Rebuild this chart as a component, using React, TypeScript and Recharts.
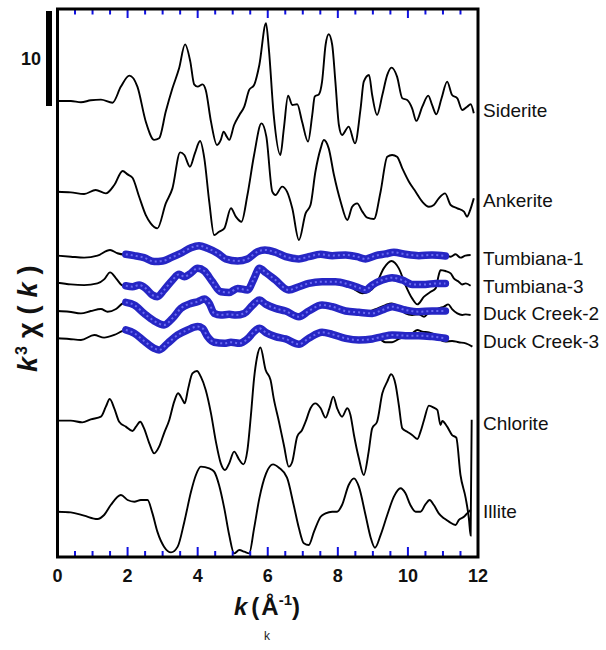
import { LineChart, Line, XAxis, YAxis } from "recharts";

type Pt = [number, number];

// k (1/Å) vs k^3·chi(k); each spectrum is shifted by its offset
const siderite: Pt[] = [
  [0, 0], [0.38, 0], [0.67, -0.14], [0.95, 0.07], [1.24, 0.14], [1.57, -0.18], [1.81, 1.51], [2.05, 2.67],
  [2.28, 1.51], [2.52, -2.18], [2.76, -4.1], [2.9, -3.93], [3.09, -1.12], [3.28, 1.33], [3.47, 3.44], [3.64, 5.96],
  [3.79, 4.14], [3.9, 1.75], [4.0, 1.51], [4.14, 1.75], [4.23, 1.16], [4.38, -2.18], [4.55, -4.63], [4.66, -4.1],
  [4.74, -3.23], [4.83, -3.75], [4.9, -4.1], [5.04, -2.53], [5.19, -1.47], [5.33, -0.6], [5.47, 1.16], [5.61, 1.68],
  [5.76, 3.79], [5.95, 8.18], [6.03, 5.54], [6.17, -1.47], [6.36, -5.68], [6.46, -2.88], [6.58, 0.56], [6.7, -0.42],
  [6.84, -0.35], [6.98, -2.18], [7.15, -4.28], [7.27, -1.47], [7.34, 0.46], [7.46, 0.7], [7.55, 2.04], [7.65, 5.89],
  [7.74, 7.02], [7.84, 5.89], [7.93, 2.04], [8.03, -2.53], [8.12, -3.58], [8.31, -2.7], [8.49, -4.46], [8.65, -0.77],
  [8.74, 2.04], [8.89, 2.74], [8.98, 0.63], [9.12, -1.47], [9.27, 0.63], [9.41, 2.74], [9.53, 3.51], [9.69, 2.56],
  [9.84, 0.28], [9.98, 0.1], [10.12, -0.77], [10.24, -2.1], [10.41, -0.6], [10.58, 0.56], [10.69, -0.42], [10.81, -1.4],
  [10.96, 0.28], [11.12, 2.04], [11.26, 0.63], [11.41, 0.28], [11.55, -0.95], [11.69, -0.6], [11.79, -0.35], [11.88, -1.3],
];

const ankerite: Pt[] = [
  [0, 0], [0.38, -0.07], [0.76, -0.25], [1.09, 0.18], [1.38, -0.18], [1.62, 0.7], [1.86, 2.18], [2.0, 1.82],
  [2.14, 1.47], [2.33, -0.53], [2.52, -2.46], [2.66, -3.33], [2.85, -3.86], [3.09, -1.23], [3.28, 0.35], [3.5, 4.14],
  [3.62, 3.86], [3.78, 2.63], [3.92, 4.04], [4.07, 5.33], [4.19, 3.51], [4.33, -1.05], [4.47, -4.56], [4.61, -4.21],
  [4.76, -3.86], [4.95, -1.75], [5.09, -2.63], [5.25, -3.16], [5.42, -0.35], [5.61, 3.86], [5.82, 7.19], [5.96, 5.8],
  [6.13, 0], [6.22, -0.35], [6.41, 0.53], [6.55, 0], [6.7, -1.75], [6.89, -5.09], [7.08, -2.28], [7.22, -1.4],
  [7.36, 2.1], [7.51, 4.56], [7.6, 5.44], [7.74, 4.56], [7.89, 1.75], [8.08, -1.05], [8.27, -2.98], [8.41, -1.58],
  [8.55, -1.23], [8.7, -2.1], [8.84, -2.74], [9.03, -2.88], [9.22, 0], [9.41, 3.68], [9.55, 3.86], [9.69, 3.68],
  [9.84, 2.46], [10.03, 1.05], [10.22, 0], [10.41, -1.05], [10.6, -1.58], [10.74, -1.4], [10.88, -0.7], [11.06, -0.18],
  [11.22, -1.4], [11.41, -1.75], [11.6, -2.1], [11.69, -2.63], [11.76, -2.1], [11.88, -0.7],
];

const tumbiana1: Pt[] = [
  [0, 0], [0.38, -0.11], [0.76, -0.21], [1.14, 0], [1.5, 0.6], [1.71, 0.25], [1.95, 0.07], [2.19, 0],
  [2.47, -0.21], [2.76, -0.6], [3.0, -0.56], [3.24, -0.21], [3.52, 0.25], [3.81, 0.84], [4.04, 1.05], [4.28, 0.77],
  [4.57, 0.25], [4.8, -0.35], [5.14, -0.56], [5.42, -0.35], [5.71, 0.42], [5.94, 0.6], [6.22, 0.35], [6.51, -0.11],
  [6.89, -0.35], [7.17, -0.11], [7.51, 0.14], [7.84, 0], [8.22, 0.07], [8.55, -0.11], [8.79, -0.35], [9.08, 0],
  [9.36, 0.18], [9.6, 0.35], [9.93, 0.14], [10.31, 0], [10.69, 0.07], [11.07, -0.04], [11.22, -0.11], [11.36, 0.14],
  [11.5, -0.21], [11.64, 0], [11.79, 0.07],
];
const tumbiana1Fit: Pt[] = [
  [1.95, 0.14], [2.19, 0], [2.47, -0.21], [2.76, -0.63], [3.0, -0.56], [3.24, -0.21], [3.52, 0.25], [3.81, 0.84],
  [4.04, 1.05], [4.28, 0.77], [4.57, 0.25], [4.8, -0.35], [5.14, -0.56], [5.42, -0.35], [5.71, 0.42], [5.92, 0.6],
  [6.22, 0.35], [6.51, -0.11], [6.89, -0.35], [7.17, -0.11], [7.51, 0.14], [7.84, 0], [8.22, 0.07], [8.55, -0.11],
  [8.79, -0.35], [9.08, 0], [9.36, 0.18], [9.6, 0.35], [9.93, 0.14], [10.31, 0], [10.69, 0.07], [11.07, -0.04],
];

const tumbiana3: Pt[] = [
  [0, 0], [0.38, -0.18], [0.76, -0.25], [1.14, -0.07], [1.33, 0.35], [1.5, 1.09], [1.67, 0.46], [1.81, -0.18],
  [1.95, -0.42], [2.14, -0.42], [2.33, -0.25], [2.52, -0.6], [2.71, -1.3], [2.85, -1.47], [3.04, -0.77], [3.28, 0.28],
  [3.47, 0.88], [3.62, 0.63], [3.76, 0.88], [4.0, 1.51], [4.19, 1.23], [4.42, 0.11], [4.66, -0.95], [4.9, -1.02],
  [5.14, -0.6], [5.42, -0.77], [5.61, 0.46], [5.76, 1.51], [5.95, 1.05], [6.22, 0.28], [6.6, -0.77], [6.89, -0.42],
  [7.17, -0.07], [7.55, 0.11], [7.93, 0.11], [8.31, -0.18], [8.5, -0.77], [8.7, -1.12], [8.88, -0.95], [9.08, -0.25],
  [9.31, 1.51], [9.53, 2.28], [9.74, 1.51], [9.93, -0.25], [10.12, -1.65], [10.27, -2.28], [10.46, -1.47], [10.65, -0.95],
  [10.79, -0.6], [10.88, 0.81], [10.93, 1.33], [11.07, 1.23], [11.22, 0.98], [11.31, 0.46], [11.45, 0.11], [11.55, -0.18],
  [11.65, -0.07], [11.79, -0.32],
];
const tumbiana3Fit: Pt[] = [
  [1.95, -0.32], [2.14, -0.42], [2.33, -0.25], [2.52, -0.6], [2.71, -1.3], [2.85, -1.47], [3.04, -0.77], [3.28, 0.28],
  [3.47, 0.88], [3.62, 0.63], [3.76, 0.88], [4.0, 1.51], [4.19, 1.23], [4.42, 0.11], [4.66, -0.95], [4.9, -1.02],
  [5.14, -0.6], [5.42, -0.77], [5.61, 0.46], [5.76, 1.51], [5.95, 1.05], [6.22, 0.28], [6.6, -0.77], [6.89, -0.42],
  [7.17, -0.07], [7.55, 0.11], [7.93, 0.11], [8.31, -0.18], [8.6, -0.53], [8.79, -0.77], [8.98, -0.25], [9.27, 0.28],
  [9.55, 0.53], [9.84, 0.28], [10.12, -0.18], [10.5, -0.18], [10.79, -0.07], [11.07, -0.07],
];

const duckCreek2: Pt[] = [
  [0, 0], [0.33, -0.07], [0.67, -0.25], [0.95, 0], [1.24, 0.21], [1.43, -0.07], [1.67, 0.21], [1.86, 0.81],
  [1.95, 0.95], [2.19, 0.63], [2.47, -0.25], [2.76, -1.05], [3.04, -1.47], [3.28, -0.77], [3.52, 0.28], [3.81, 0.81],
  [4.0, 0.98], [4.19, 1.26], [4.33, 0.81], [4.47, -0.25], [4.66, -0.42], [4.9, -0.35], [5.09, -0.42], [5.33, -0.25],
  [5.57, 0.63], [5.76, 1.16], [5.95, 0.7], [6.22, 0.28], [6.51, 0], [6.89, -0.6], [7.17, 0], [7.55, 0.63],
  [7.84, 0.46], [8.22, 0], [8.6, -0.14], [8.9, -0.05], [9.08, 0.21], [9.36, 0.63], [9.53, 0.81], [9.74, 0.46],
  [9.93, -0.25], [10.12, -0.42], [10.31, -0.35], [10.46, -0.6], [10.6, -0.14], [10.79, 0.11], [10.88, 0.28], [11.03, 0.46],
  [11.15, 0.7], [11.26, 0.21], [11.41, -0.25], [11.55, -0.42], [11.65, -0.35], [11.79, -0.42],
];
const duckCreek2Fit: Pt[] = [
  [1.95, 0.91], [2.19, 0.63], [2.47, -0.25], [2.76, -1.05], [3.04, -1.47], [3.28, -0.77], [3.52, 0.28], [3.81, 0.81],
  [4.0, 0.98], [4.19, 1.26], [4.33, 0.81], [4.47, -0.25], [4.66, -0.42], [4.9, -0.35], [5.09, -0.42], [5.33, -0.25],
  [5.57, 0.63], [5.76, 1.16], [5.95, 0.7], [6.22, 0.28], [6.51, 0], [6.89, -0.6], [7.17, 0], [7.55, 0.63],
  [7.84, 0.46], [8.22, 0], [8.6, -0.14], [8.98, -0.25], [9.27, 0.11], [9.55, 0.46], [9.93, 0.11], [10.31, -0.07],
  [10.69, 0], [11.07, 0],
];

const duckCreek3: Pt[] = [
  [0, 0], [0.33, -0.07], [0.67, -0.18], [1.05, 0.35], [1.33, 0.07], [1.62, 0.35], [1.86, 0.77], [1.95, 0.88],
  [2.19, 0.53], [2.47, -0.28], [2.76, -1.05], [2.9, -1.23], [3.14, -0.53], [3.43, 0.35], [3.71, 0.88], [4.0, 1.23],
  [4.14, 1.05], [4.28, 0.18], [4.47, -0.42], [4.76, -0.53], [4.95, -0.42], [5.19, -0.53], [5.42, -0.07], [5.61, 0.7],
  [5.76, 1.05], [5.95, 0.6], [6.22, 0.18], [6.51, -0.07], [6.89, -0.63], [7.17, 0], [7.55, 0.63], [7.84, 0.42],
  [8.22, 0], [8.6, -0.18], [8.98, -0.07], [9.17, -0.07], [9.36, -0.42], [9.55, -0.42], [9.74, -0.07], [9.93, 0.28],
  [10.12, 0.53], [10.27, 0.88], [10.41, 0.7], [10.6, 0.63], [10.79, 0.35], [10.93, -0.18], [11.07, -0.35], [11.26, -0.28],
  [11.45, -0.42], [11.65, -0.53], [11.84, -0.88],
];
const duckCreek3Fit: Pt[] = [
  [1.95, 0.88], [2.19, 0.53], [2.47, -0.28], [2.76, -1.05], [2.9, -1.23], [3.14, -0.53], [3.43, 0.35], [3.71, 0.88],
  [4.0, 1.23], [4.14, 1.05], [4.28, 0.18], [4.47, -0.42], [4.76, -0.53], [4.95, -0.42], [5.19, -0.53], [5.42, -0.07],
  [5.61, 0.7], [5.76, 1.05], [5.95, 0.6], [6.22, 0.18], [6.51, -0.07], [6.89, -0.63], [7.17, 0], [7.55, 0.63],
  [7.84, 0.42], [8.22, 0], [8.6, -0.18], [8.98, -0.07], [9.27, 0.18], [9.55, 0.35], [9.93, 0.28], [10.31, 0.28],
  [10.69, 0.18], [11.07, 0],
];

const chlorite: Pt[] = [
  [0, 0], [0.38, 0], [0.71, -0.18], [0.95, 0.14], [1.24, 0.42], [1.38, 1.47], [1.49, 2.28], [1.62, 1.3],
  [1.76, -0.11], [1.95, -0.63], [2.14, -1.09], [2.24, -0.63], [2.36, -0.11], [2.47, -0.81], [2.62, -2.39], [2.76, -3.44],
  [2.9, -2.74], [3.04, -1.33], [3.19, 0.07], [3.33, 2.0], [3.44, 2.88], [3.57, 2.18], [3.63, 1.82], [3.73, 3.4],
  [3.85, 4.98], [3.98, 5.23], [4.09, 4.63], [4.23, 3.23], [4.38, 0.77], [4.52, -2.21], [4.66, -4.49], [4.78, -5.19],
  [4.9, -4.49], [5.04, -3.26], [5.19, -4.14], [5.3, -4.6], [5.42, -3.09], [5.52, 0.6], [5.61, 4.46], [5.69, 6.6],
  [5.79, 7.7], [5.94, 5.33], [6.08, 4.28], [6.17, 2.35], [6.32, -0.11], [6.46, -2.56], [6.6, -4.84], [6.7, -4.32],
  [6.84, -1.68], [6.98, -0.98], [7.08, -0.11], [7.22, 1.3], [7.36, 1.82], [7.51, 1.3], [7.65, 0.32], [7.76, 1.3],
  [7.87, 2.53], [7.98, 1.3], [8.12, 0.42], [8.27, 1.3], [8.36, 0.6], [8.46, -1.51], [8.6, -3.96], [8.74, -5.72],
  [8.88, -3.26], [8.98, -0.81], [9.12, -0.11], [9.27, 2.88], [9.41, 4.11], [9.52, 4.88], [9.65, 3.75], [9.74, 1.65],
  [9.84, -0.81], [9.98, -1.16], [10.12, -1.51], [10.27, -1.93], [10.36, -1.16], [10.46, 0.07], [10.6, 1.58], [10.74, 1.37],
  [10.84, 1.12], [10.93, -0.46], [10.98, -0.04], [11.12, -0.63], [11.26, -1.51], [11.38, -1.79], [11.5, -5.72], [11.65, -8.18],
  [11.74, -10.3], [11.79, -12.1], [11.82, 0.1],
];

const illite: Pt[] = [
  [0, 0], [0.38, -0.07], [0.76, -0.42], [1.14, -0.77], [1.33, -0.35], [1.52, 0.7], [1.81, 1.75], [2.0, 1.23],
  [2.19, 1.05], [2.38, 1.23], [2.57, 1.23], [2.71, -0.18], [2.85, -2.1], [3.04, -3.68], [3.24, -4.28], [3.43, -3.68],
  [3.62, -1.05], [3.81, 2.1], [3.95, 3.86], [4.09, 4.74], [4.33, 4.56], [4.47, 4.21], [4.61, 2.81], [4.76, 0.35],
  [4.9, -2.46], [5.04, -4.39], [5.19, -4.04], [5.33, -4.21], [5.47, -4.39], [5.61, -1.75], [5.76, 1.4], [5.95, 4.0],
  [6.15, 4.98], [6.32, 4.63], [6.55, 3.58], [6.74, 0.7], [6.89, -1.75], [7.03, -3.33], [7.17, -3.51], [7.32, -2.1],
  [7.51, -0.53], [7.65, -0.18], [7.84, 0], [7.98, 0], [8.12, 0.7], [8.31, 2.81], [8.46, 3.51], [8.6, 2.63],
  [8.79, -0.35], [8.93, -2.63], [9.06, -3.79], [9.22, -2.46], [9.41, -0.35], [9.6, 1.58], [9.79, 2.46], [9.93, 1.93],
  [10.07, 0.7], [10.22, 0], [10.36, 0], [10.5, 0.77], [10.62, 1.23], [10.74, 0.7], [10.88, -0.18], [11.03, -0.7],
  [11.17, -1.05], [11.36, -1.4], [11.45, -0.88], [11.6, -0.53], [11.69, -0.18], [11.79, 0.18],
];

const names = ["Siderite", "Ankerite", "Tumbiana-1", "Tumbiana-3", "Duck Creek-2", "Duck Creek-3", "Chlorite", "Illite"];
const offsets = [48.0, 38.45, 31.72, 28.87, 25.89, 23.02, 14.35, 4.77];
const measured = [siderite, ankerite, tumbiana1, tumbiana3, duckCreek2, duckCreek3, chlorite, illite];
const fits: (Pt[] | null)[] = [null, null, tumbiana1Fit, tumbiana3Fit, duckCreek2Fit, duckCreek3Fit, null, null];
const labelY = [117, 207, 265, 293, 320, 348, 430, 518];

const kTicks = [0, 0.5, 1, 1.5, 2, 2.5, 3, 3.5, 4, 4.5, 5, 5.5, 6, 6.5, 7, 7.5, 8, 8.5, 9, 9.5, 10, 10.5, 11, 11.5, 12];
const kLabels = [0, 2, 4, 6, 8, 10, 12];
const Y_MAX = 57.68;

const W = 606;
const H = 650;
const TOP = 9;
const BOTTOM = 557;
const LEFT = 57.5;
const RIGHT = 478;
const FONT = "Arial, 'Liberation Sans', Helvetica, sans-serif";
const TICK_BLUE = "#1010e0";

const shift = (pts: Pt[], off: number) => pts.map(([k, v]) => ({ k, y: v + off }));

// ticks point inward on both the bottom and the top edge of the frame
const KTick = (props: any) => {
  const { x, payload } = props;
  const v = payload.value;
  const major = v % 2 === 0;
  const inner = v > 0 && v < 12;
  return (
    <g>
      {inner && (
        <line x1={x} x2={x} y1={BOTTOM - 1} y2={BOTTOM - (major ? 10 : 6)} stroke={TICK_BLUE} strokeWidth={2} />
      )}
      {inner && (
        <line x1={x} x2={x} y1={TOP + 1} y2={TOP + (major ? 9 : 5.5)} stroke={TICK_BLUE} strokeWidth={2} />
      )}
      {kLabels.includes(v) && (
        <text x={x} y={582} textAnchor="middle" fontFamily={FONT} fontSize={18} fontWeight="bold" fill="#111">
          {v}
        </text>
      )}
    </g>
  );
};

export default function App() {
  return (
    <div style={{ position: "absolute", left: 0, top: 0, width: W, height: H }}>
      <LineChart
        width={W}
        height={H}
        margin={{ top: TOP, right: W - RIGHT - 1, left: LEFT - 1, bottom: H - BOTTOM - 40 }}
      >
        <XAxis
          dataKey="k"
          type="number"
          domain={[0, 12]}
          ticks={kTicks}
          interval={0}
          height={40}
          axisLine={false}
          tickLine={false}
          tick={<KTick />}
          allowDataOverflow
        />
        <YAxis
          yAxisId="left"
          type="number"
          domain={[0, Y_MAX]}
          width={1}
          tick={false}
          tickLine={false}
          axisLine={false}
          allowDataOverflow
        />
        <YAxis
          yAxisId="right"
          orientation="right"
          type="number"
          domain={[0, Y_MAX]}
          width={1}
          tick={false}
          tickLine={false}
          axisLine={false}
        />
        {measured.map((pts, i) => (
          <Line
            key={names[i]}
            yAxisId="left"
            data={shift(pts, offsets[i])}
            dataKey="y"
            type="monotone"
            stroke="#000"
            strokeWidth={1.9}
            dot={false}
            isAnimationActive={false}
          />
        ))}
        {fits.map((pts, i) =>
          pts ? (
            <Line
              key={names[i] + "-fit"}
              yAxisId="left"
              data={shift(pts, offsets[i])}
              dataKey="y"
              type="monotone"
              stroke="#2626c4"
              strokeWidth={7.5}
              strokeLinecap="round"
              dot={false}
              isAnimationActive={false}
            />
          ) : null
        )}
        {fits.map((pts, i) =>
          pts ? (
            <Line
              key={names[i] + "-fit-inner"}
              yAxisId="left"
              data={shift(pts, offsets[i])}
              dataKey="y"
              type="monotone"
              stroke="#6a6af0"
              strokeWidth={2}
              strokeDasharray="2 3"
              dot={false}
              isAnimationActive={false}
            />
          ) : null
        )}
      </LineChart>
      <svg width={W} height={H} style={{ position: "absolute", left: 0, top: 0, pointerEvents: "none" }}>
        <rect x={LEFT} y={TOP} width={RIGHT - LEFT} height={BOTTOM - TOP} fill="none" stroke="#000" strokeWidth={3} />
        <rect x={46} y={11} width={6} height={95} fill="#000" />
        <text x={41} y={65} textAnchor="end" fontFamily={FONT} fontSize={18} fontWeight="bold" fill="#111">
          10
        </text>
        {names.map((n, i) => (
          <text key={n} x={483} y={labelY[i]} fontFamily={FONT} fontSize={19} fill="#111">
            {n}
          </text>
        ))}
        <text x={267} y={615} textAnchor="middle" fontFamily={FONT} fontSize={24} fontWeight="bold" fill="#111">
          <tspan fontStyle="italic">k</tspan>
          <tspan dx={4}>(</tspan>
          <tspan dx={2}>Å</tspan>
          <tspan dy={-10} fontSize={15}>-1</tspan>
          <tspan dy={10}>)</tspan>
        </text>
        <text
          transform="translate(37,372) rotate(-90)"
          fontFamily={FONT}
          fontSize={27}
          fontWeight="bold"
          fill="#111"
          letterSpacing={8}
        >
          <tspan fontStyle="italic">k</tspan>
          <tspan dx={-6} dy={-10} fontSize={16}>3</tspan>
          <tspan dy={10}>χ(</tspan>
          <tspan fontStyle="italic">k</tspan>
          <tspan>)</tspan>
        </text>
        <text x={267} y={640} textAnchor="middle" fontFamily={FONT} fontSize={12} fill="#222">
          k
        </text>
      </svg>
    </div>
  );
}
